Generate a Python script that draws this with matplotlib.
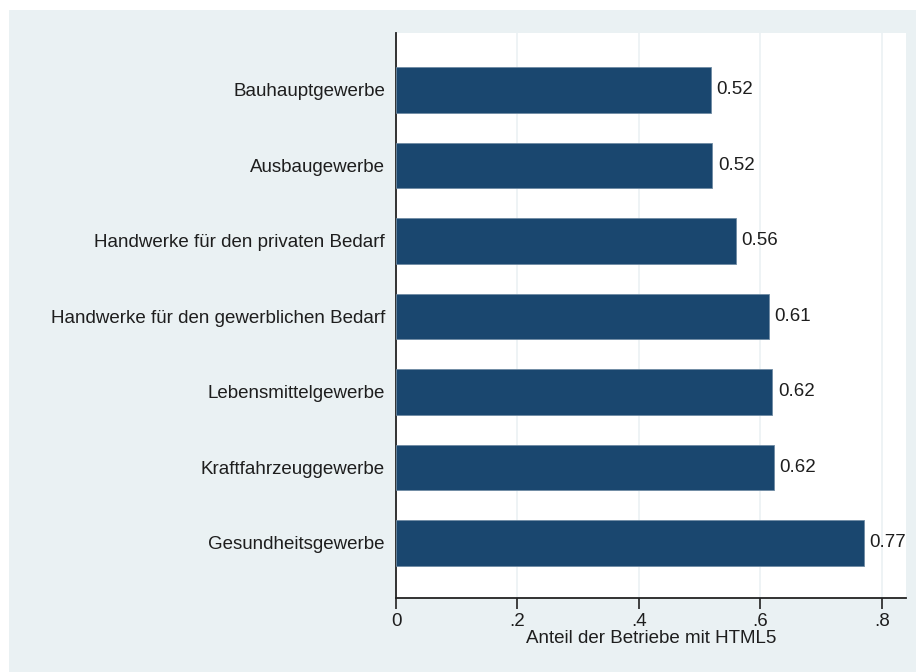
import matplotlib.pyplot as plt
from matplotlib.patches import Rectangle
import numpy as np

categories = ['Bauhauptgewerbe', 'Ausbaugewerbe', 'Handwerke für den privaten Bedarf',
              'Handwerke für den gewerblichen Bedarf', 'Lebensmittelgewerbe',
              'Kraftfahrzeuggewerbe', 'Gesundheitsgewerbe']
values = [0.518, 0.521, 0.560, 0.614, 0.620, 0.622, 0.770]
xticks = [0, 0.2, 0.4, 0.6, 0.8]
xticklabels = ['0', '.2', '.4', '.6', '.8']

plt.rcParams['font.family'] = ['Liberation Sans', 'DejaVu Sans']

bg = '#EAF1F3'
navy = '#1A476F'
textc = '#1E1E1E'
fs = 13.5

fig = plt.figure(figsize=(9.16, 6.72), dpi=100)
fig.patch.set_facecolor('white')
fig.patches.append(Rectangle((9 / 916, 0), 1 - 9 / 916, 1 - 10 / 672,
                             transform=fig.transFigure, facecolor=bg,
                             edgecolor='none', zorder=-10))

ax = fig.add_axes([396 / 916, 74 / 672, 510 / 916, 565 / 672])
ax.set_facecolor('white')

y = np.arange(len(categories))
ax.barh(y, values, height=0.6, color=navy, edgecolor='#6F8BA3', linewidth=0.6, zorder=3)

for yi, v in zip(y, values):
    ax.text(v + 0.009, yi, f'{v:.2f}', va='center', ha='left', fontsize=fs, color=textc)

ax.set_ylim(len(categories) - 1 + 0.73, -0.755)
ax.set_xlim(0, 0.84)

ax.set_yticks(y)
ax.set_yticklabels(categories, fontsize=fs, color=textc)
ax.tick_params(axis='y', length=0, pad=8)

ax.set_xticks(xticks)
ax.set_xticklabels(xticklabels, fontsize=fs, color=textc)
ax.tick_params(axis='x', length=8, width=1.2, pad=3, color='#222222')
ax.set_xlabel('Anteil der Betriebe mit HTML5', fontsize=fs, color=textc, labelpad=0)

for gx in xticks[1:]:
    ax.axvline(gx, color='#EBF1F4', linewidth=1.2, zorder=1)

for side in ['top', 'right']:
    ax.spines[side].set_visible(False)
for side in ['left', 'bottom']:
    ax.spines[side].set_linewidth(1.3)
    ax.spines[side].set_color('#222222')

fig.savefig('out.png', dpi=100, facecolor=fig.get_facecolor())
